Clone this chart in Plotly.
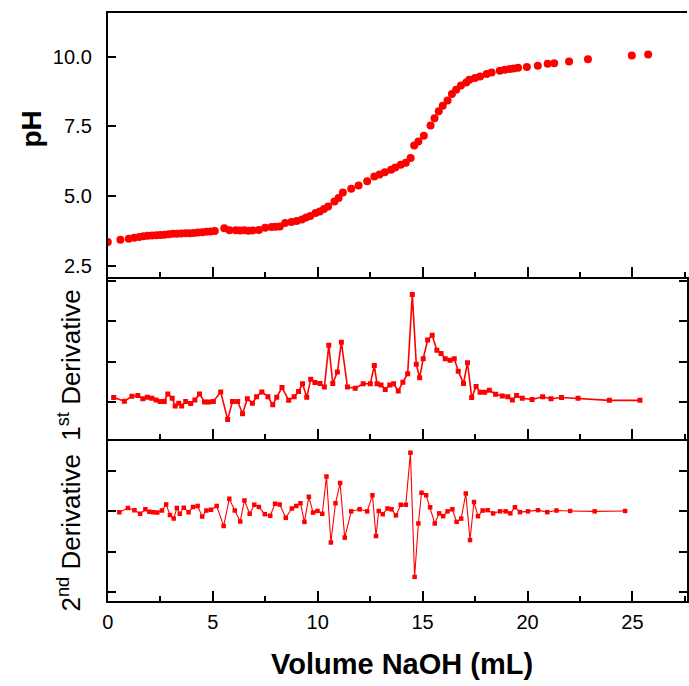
import plotly.graph_objects as go

# ---- Data ----
vol_ph = [0.0, 0.6, 1.0, 1.26, 1.5, 1.7, 1.9, 2.1, 2.3, 2.5, 2.7, 2.9, 3.1, 3.3, 3.5, 3.7, 3.9,
          4.1, 4.3, 4.5, 4.7, 4.9, 5.1, 5.55, 5.8, 6.1, 6.3, 6.5, 6.7, 6.9, 7.2, 7.5, 7.8, 8.0,
          8.2, 8.45, 8.75, 9.0, 9.25, 9.45, 9.65, 9.9, 10.1, 10.3, 10.5, 10.8, 11.0, 11.2, 11.6,
          11.95, 12.36, 12.7, 12.95, 13.2, 13.5, 13.7, 13.96, 14.2, 14.43, 14.6, 14.8, 15.06,
          15.38, 15.57, 15.77, 15.96, 16.19, 16.4, 16.6, 16.83, 17.08, 17.23, 17.5, 17.74,
          18.05, 18.29, 18.68, 18.92, 19.15, 19.34, 19.55, 19.97, 20.49, 20.96, 21.27, 21.98,
          22.88, 24.97, 25.75]
ph = [3.37, 3.45, 3.48, 3.52, 3.55, 3.57, 3.59, 3.60, 3.61, 3.62, 3.63, 3.64, 3.66, 3.66, 3.67,
      3.68, 3.68, 3.69, 3.71, 3.72, 3.73, 3.74, 3.76, 3.86, 3.79, 3.79, 3.78, 3.79, 3.77, 3.78,
      3.80, 3.88, 3.90, 3.91, 3.92, 4.05, 4.08, 4.12, 4.17, 4.24, 4.30, 4.40, 4.46, 4.55, 4.64,
      4.82, 4.94, 5.14, 5.27, 5.39, 5.54, 5.71, 5.78, 5.86, 5.95, 6.03, 6.13, 6.20, 6.37, 6.82,
      6.96, 7.17, 7.53, 7.79, 8.04, 8.24, 8.43, 8.66, 8.81, 8.96, 9.07, 9.17, 9.23, 9.29, 9.38,
      9.43, 9.49, 9.53, 9.55, 9.57, 9.60, 9.63, 9.67, 9.74, 9.76, 9.82, 9.90, 10.04, 10.07]

vol_d1 = [0.28, 0.79, 1.15, 1.43, 1.67, 1.89, 2.1, 2.3, 2.49, 2.69, 2.86, 3.07, 3.21, 3.38, 3.52,
          3.71, 3.95, 4.15, 4.37, 4.61, 4.8, 5.03, 5.38, 5.71, 5.94, 6.19, 6.42, 6.65, 6.89,
          7.09, 7.34, 7.63, 7.86, 8.05, 8.3, 8.62, 8.88, 9.09, 9.28, 9.48, 9.67, 9.87, 10.11,
          10.32, 10.53, 10.72, 10.94, 11.13, 11.42, 11.79, 12.17, 12.51, 12.7, 12.83, 13.02,
          13.22, 13.44, 13.62, 13.84, 14.06, 14.29, 14.51, 14.7, 14.86, 15.03, 15.24, 15.46,
          15.68, 15.88, 16.08, 16.31, 16.51, 16.7, 16.95, 17.14, 17.34, 17.55, 17.74, 17.96,
          18.18, 18.48, 18.8, 19.06, 19.28, 19.48, 19.75, 20.22, 20.72, 21.12, 21.62, 22.41,
          23.9, 25.36]
d1 = [0.12, 0.03, 0.15, 0.17, 0.09, 0.13, 0.10, 0.06, 0.02, 0.02, 0.21, 0.10, -0.09, -0.02,
      -0.09, 0.02, -0.03, 0.06, 0.21, 0.01, 0.01, 0.02, 0.26, -0.42, 0.02, 0.02, -0.28, 0.09,
      -0.02, 0.14, 0.26, 0.14, -0.06, 0.13, 0.37, 0.05, 0.14, 0.27, 0.46, 0.13, 0.57, 0.49,
      0.47, 0.38, 1.41, 0.47, 0.75, 1.49, 0.38, 0.35, 0.46, 0.46, 0.91, 0.46, 0.43, 0.32,
      0.43, 0.46, 0.28, 0.50, 0.71, 2.67, 0.94, 0.61, 1.08, 1.54, 1.66, 1.29, 1.21, 1.08,
      1.04, 1.08, 0.77, 0.47, 0.98, 0.12, 0.39, 0.25, 0.25, 0.30, 0.20, 0.16, 0.14, 0.06,
      0.17, 0.10, 0.07, 0.14, 0.09, 0.12, 0.10, 0.05, 0.05]

vol_d2 = [0.55, 0.96, 1.27, 1.54, 1.79, 1.98, 2.17, 2.36, 2.58, 2.78, 2.96, 3.14, 3.29, 3.43,
          3.62, 3.85, 4.06, 4.28, 4.5, 4.7, 4.92, 5.19, 5.52, 5.79, 6.05, 6.31, 6.51, 6.76,
          6.98, 7.2, 7.48, 7.74, 7.97, 8.19, 8.48, 8.77, 8.98, 9.18, 9.37, 9.58, 9.78, 9.99,
          10.22, 10.42, 10.63, 10.85, 11.07, 11.29, 11.6, 12.0, 12.36, 12.61, 12.78, 12.91,
          13.1, 13.33, 13.52, 13.73, 13.96, 14.2, 14.42, 14.62, 14.8, 14.95, 15.17, 15.36,
          15.58, 15.79, 15.98, 16.19, 16.42, 16.62, 16.84, 17.06, 17.26, 17.45, 17.64, 17.86,
          18.1, 18.36, 18.69, 18.96, 19.18, 19.4, 19.64, 20.02, 20.5, 20.94, 21.38, 22.03,
          23.2, 24.65]
d2 = [-0.02, 0.08, 0.03, -0.06, 0.05, -0.01, -0.02, -0.03, 0.02, 0.17, -0.09, -0.18, 0.08,
      -0.06, 0.09, -0.02, 0.11, 0.13, -0.13, 0.02, 0.04, 0.13, -0.36, 0.31, 0.02, -0.25, 0.27,
      -0.06, 0.16, 0.11, -0.07, -0.11, 0.19, 0.17, -0.16, 0.07, 0.13, 0.20, -0.26, 0.36,
      -0.03, 0.01, -0.06, 0.86, -0.77, 0.20, 0.70, -0.65, 0.00, 0.05, 0.00, 0.40, -0.61, 0.01,
      -0.07, 0.07, 0.05, -0.10, 0.16, 0.16, 1.45, -1.62, -0.30, 0.46, 0.40, 0.10, -0.30,
      -0.05, -0.12, 0.00, 0.05, -0.26, -0.18, 0.44, -0.71, 0.23, -0.12, 0.02, 0.03, -0.05,
      0.00, 0.00, -0.05, 0.10, -0.02, 0.00, 0.03, -0.02, 0.02, 0.01, 0.00, 0.01]

ph_ticks = [2.5, 5.0, 7.5, 10.0]
ph_ticktext = ["2.5", "5.0", "7.5", "10.0"]
d1_ticks = [0, 1, 2, 3]
d2_ticks = [-2, -1, 0, 1]
x_ticks = [0, 5, 10, 15, 20, 25]

W, H = 689, 686
RED = "#FF0000"
FONT = "Arial, Liberation Sans, sans-serif"

def px(v):
    return v / W

def py(v):
    return 1 - v / H

fig = go.Figure()
fig.add_trace(go.Scatter(x=vol_ph, y=ph, mode="markers",
                         marker=dict(color=RED, size=8, line=dict(width=0)),
                         xaxis="x", yaxis="y", showlegend=False))
fig.add_trace(go.Scatter(x=vol_d1, y=d1, mode="lines+markers",
                         line=dict(color=RED, width=1.6),
                         marker=dict(color=RED, size=5, symbol="square"),
                         xaxis="x2", yaxis="y2", showlegend=False))
fig.add_trace(go.Scatter(x=vol_d2, y=d2, mode="lines+markers",
                         line=dict(color=RED, width=1.1),
                         marker=dict(color=RED, size=4.5, symbol="square"),
                         xaxis="x3", yaxis="y3", showlegend=False))

xdom = [px(103), 1.0]
xcommon = dict(range=[0, 27.6], domain=xdom, showline=True, linecolor="black", linewidth=2,
               ticks="inside", ticklen=10, tickwidth=2, tickcolor="black",
               tickvals=x_ticks, showgrid=False, zeroline=False,
               minor=dict(ticks="inside", ticklen=5, tickwidth=2, tickcolor="black",
                          tick0=0, dtick=2.5, showgrid=False))
ycommon = dict(showline=True, linecolor="black", linewidth=2, ticks="inside", ticklen=8,
               tickwidth=2, tickcolor="black", showgrid=False, zeroline=False)

fig.update_layout(
    width=W, height=H, margin=dict(l=0, r=0, t=0, b=0),
    paper_bgcolor="white", plot_bgcolor="white",
    font=dict(family=FONT, color="black"),
    xaxis=dict(**xcommon, anchor="y", mirror=True, showticklabels=False),
    xaxis2=dict(**xcommon, anchor="y2", showticklabels=False),
    xaxis3=dict(**xcommon, anchor="y3", showticklabels=True,
                tickfont=dict(size=20, family=FONT), ticklabelstandoff=2),
    yaxis=dict(**ycommon, anchor="x", domain=[py(277), py(13.5)], range=[2.13, 11.54],
               tickvals=ph_ticks, ticktext=ph_ticktext,
               tickfont=dict(size=20, family=FONT), ticklabelstandoff=10),
    yaxis2=dict(**ycommon, anchor="x2", domain=[py(440), py(277)], range=[-0.914, 3.11],
                tickvals=d1_ticks, showticklabels=False, mirror="ticks"),
    yaxis3=dict(**ycommon, anchor="x3", domain=[py(602), py(440)], range=[-2.22, 1.78],
                tickvals=d2_ticks, showticklabels=False, mirror="ticks"),
    annotations=[
        dict(text="<b>pH</b>", x=px(26), y=py(129), xref="paper", yref="paper",
             textangle=-90, showarrow=False, font=dict(size=28, family=FONT),
             xanchor="center", yanchor="middle"),
        dict(text="1<sup>st</sup> Derivative", x=px(64), y=py(366), xref="paper", yref="paper",
             textangle=-90, showarrow=False, font=dict(size=26, family=FONT),
             xanchor="center", yanchor="middle"),
        dict(text="2<sup>nd</sup> Derivative", x=px(64), y=py(533), xref="paper", yref="paper",
             textangle=-90, showarrow=False, font=dict(size=26, family=FONT),
             xanchor="center", yanchor="middle"),
        dict(text="<b>Volume NaOH (mL)</b>", x=px(401), y=py(665), xref="paper", yref="paper",
             showarrow=False, font=dict(size=29, family=FONT),
             xanchor="center", yanchor="middle"),
    ],
)

fig.write_html("out.html", config={"displayModeBar": False},
               post_script="document.body.style.margin='0px';document.body.style.overflow='hidden';")
